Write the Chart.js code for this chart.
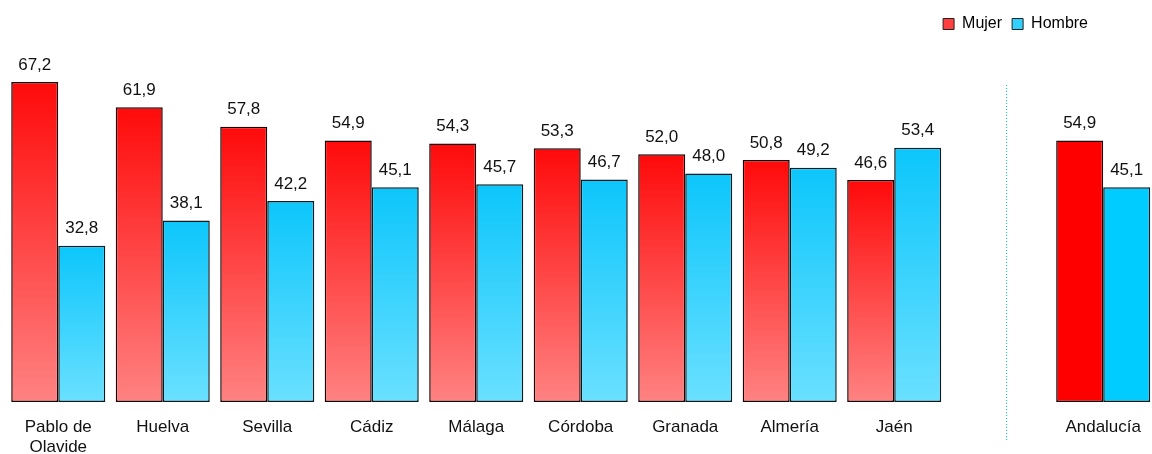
<!DOCTYPE html>
<html>
<head>
<meta charset="utf-8">
<script src="https://cdn.jsdelivr.net/npm/chart.js@4.4.1/dist/chart.umd.min.js"></script>
<style>
  html, body { margin: 0; padding: 0; background: #fff; overflow: hidden; }
  body { width: 1152px; height: 454px; }
  #wrap { width: 1157px; height: 454px; }
</style>
</head>
<body>
<div id="wrap"><canvas id="myChart"></canvas></div>
<script>
// categories (the empty one is the gap before the total)
var categories = [['Pablo de', 'Olavide'], 'Huelva', 'Sevilla', 'Cádiz', 'Málaga', 'Córdoba', 'Granada', 'Almería', 'Jaén', '', 'Andalucía'];
var mujer = [67.2, 61.9, 57.8, 54.9, 54.3, 53.3, 52.0, 50.8, 46.6, null, 54.9];
var hombre = [32.8, 38.1, 42.2, 45.1, 45.7, 46.7, 48.0, 49.2, 53.4, null, 45.1];
var totalIndex = 10;

var FONT = '"Liberation Sans", Arial, sans-serif';

function barFill(top, bottom, solid) {
  return function (ctx) {
    if (ctx.type !== 'data') return solid;
    if (ctx.dataIndex === totalIndex) return solid;
    var chart = ctx.chart;
    var y = chart.scales.y;
    if (!chart.chartArea || !y) return solid;
    var v = ctx.raw;
    if (v == null) return solid;
    var y0 = y.getPixelForValue(v);
    var y1 = y.getPixelForValue(0);
    var g = chart.ctx.createLinearGradient(0, y0, 0, y1);
    g.addColorStop(0, top);
    g.addColorStop(1, bottom);
    return g;
  };
}

var valueLabels = {
  id: 'valueLabels',
  afterDatasetsDraw: function (chart) {
    var c = chart.ctx;
    c.save();
    c.font = '17px ' + FONT;
    c.fillStyle = '#111';
    c.textAlign = 'center';
    c.textBaseline = 'middle';
    chart.data.datasets.forEach(function (ds, i) {
      chart.getDatasetMeta(i).data.forEach(function (bar, j) {
        var v = ds.data[j];
        if (v == null) return;
        c.fillText(v.toFixed(1).replace('.', ','), bar.x, bar.y - 17);
      });
    });
    c.restore();
  }
};

var separator = {
  id: 'separator',
  afterDraw: function (chart) {
    var a = chart.getDatasetMeta(1).data[8].x;
    var b = chart.getDatasetMeta(0).data[totalIndex].x;
    var px = Math.round(a + (b - a) * 0.546) + 0.5;
    var c = chart.ctx;
    c.save();
    c.strokeStyle = '#00c4dc';
    c.lineWidth = 1;
    c.setLineDash([1, 2]);
    c.beginPath();
    c.moveTo(px, 85);
    c.lineTo(px, 440);
    c.stroke();
    c.restore();
  }
};

var legendShift = {
  id: 'legendShift',
  afterLayout: function (chart) {
    if (chart.legend) {
      chart.legend.right -= 59;
    }
  }
};

var ctx = document.getElementById('myChart').getContext('2d');
var chart = new Chart(ctx, {
  type: 'bar',
  data: {
    labels: categories,
    datasets: [{
      label: 'Mujer',
      data: mujer,
      backgroundColor: barFill('#ff0a0a', '#ff8282', '#ff0000'),
      borderColor: '#1a0000',
      borderWidth: 1.5,
      borderSkipped: false,
      clip: false
    }, {
      label: 'Hombre',
      data: hombre,
      backgroundColor: barFill('#0cc6fb', '#6ae0ff', '#00ccff'),
      borderColor: '#0a1a1f',
      borderWidth: 1.5,
      borderSkipped: false,
      clip: false
    }]
  },
  options: {
    responsive: true,
    maintainAspectRatio: false,
    animation: false,
    layout: { padding: { left: 6, right: 0, top: 6, bottom: -19 } },
    categoryPercentage: 0.9,
    barPercentage: 1.0,
    plugins: {
      legend: {
        position: 'top',
        align: 'end',
        labels: {
          boxWidth: 11,
          boxHeight: 11,
          padding: 10,
          color: '#111',
          font: { family: FONT, size: 16 },
          generateLabels: function (chart) {
            return [
              { text: 'Mujer', fillStyle: '#ff4040', strokeStyle: '#222', lineWidth: 1, datasetIndex: 0 },
              { text: 'Hombre', fillStyle: '#30d0ff', strokeStyle: '#222', lineWidth: 1, datasetIndex: 1 }
            ];
          }
        }
      },
      tooltip: { enabled: false }
    },
    scales: {
      x: {
        grid: { display: false, drawTicks: false },
        border: { display: false },
        ticks: {
          color: '#111',
          padding: 16,
          maxRotation: 0,
          autoSkip: false,
          font: { family: FONT, size: 17, lineHeight: 1.15 }
        }
      },
      y: {
        display: false,
        min: 0,
        max: 75.6
      }
    }
  },
  plugins: [valueLabels, separator, legendShift]
});
</script>
</body>
</html>
